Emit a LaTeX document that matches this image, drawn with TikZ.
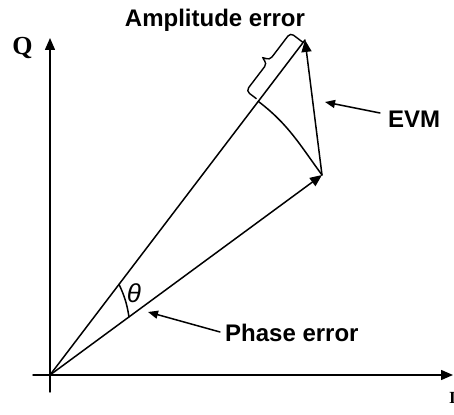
\documentclass[tikz,border=0pt]{standalone}
\usepackage{fontspec}
\setmainfont{Liberation Sans}
\newfontfamily\serifb{Liberation Serif}
\usetikzlibrary{arrows.meta,calc}
\begin{document}
\begin{tikzpicture}[x=1pt,y=1pt,
  ln/.style={line width=1.5pt,line cap=round},
  vec/.style={ln,-{Triangle[length=12pt,width=10pt]}},
  lab/.style={ln,-{Triangle[length=10pt,width=8pt]}},
  txt/.style={inner sep=0pt,font=\fontsize{24}{28}\selectfont\bfseries},
  axl/.style={inner sep=0pt,font=\serifb\bfseries}]
\useasboundingbox (0,0) rectangle (454,414);
% points
\coordinate (O) at (50,39);
\coordinate (T) at (305,374);
\coordinate (M) at (322,239);
\coordinate (Xl) at (33,39);
\coordinate (Xr) at (453,39);
\coordinate (Yb) at (50,22);
\coordinate (Yt) at (50,376);
\coordinate (A1) at (258.3,312.6);
\coordinate (B1) at (258.9,313.4);
\coordinate (H1) at (119,129.7);
\coordinate (H2) at (129,97);
% axes
\draw[vec] (Xl) -- (Xr);
\draw[vec] (Yb) -- (Yt);
\node[axl,font=\serifb\bfseries\fontsize{26}{30}\selectfont,anchor=base] (Q) at (22.5,359) {Q};
\node[axl,font=\serifb\bfseries\fontsize{17}{20}\selectfont,anchor=base west] (I) at (449,11) {I};
% vectors
\draw[ln] (O) -- (T);
\draw[vec] (O) -- (M);
\draw[vec] (M) -- (T);
% arc
\draw[ln] (A1) to[out=-37.3,in=126.3] (M);
% angle
\draw[ln] (H1) to[bend left=8] (H2);
\node[inner sep=0pt,font=\fontsize{26}{30}\selectfont\itshape] (th) at (134,121) {θ};
% brace
\begin{scope}[shift={(B1)},rotate=52.72]
\draw[line width=1.4pt,rounded corners=4pt] (0,3) -- (0,16) -- (34.5,16) -- (36.5,25) -- (38.5,16) -- (73,16) -- (73,0);
\end{scope}
% labels
\node[txt,anchor=base] (amp) at (215,387) {Amplitude error};
\node[txt,anchor=base west] (evm) at (388,286) {EVM};
\node[txt,anchor=base west] (ph) at (225,72) {Phase error};
\coordinate (evmt) at (380,301);
\coordinate (evmh) at (325,312);
\coordinate (pht) at (220,82);
\coordinate (phh) at (148,102);
\draw[lab] (evmt) -- (evmh);
\draw[lab] (pht) -- (phh);
\end{tikzpicture}
\end{document}
